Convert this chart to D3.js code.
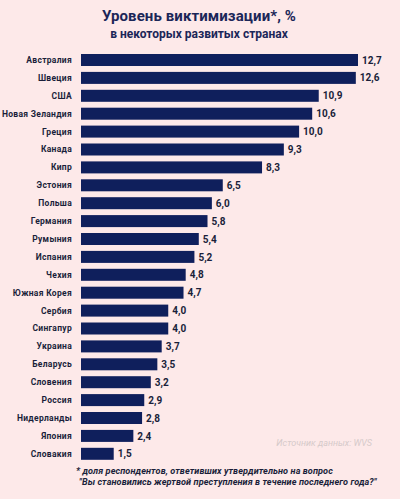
<!DOCTYPE html>
<html>
<head>
<meta charset="utf-8">
<script src="https://cdn.jsdelivr.net/npm/d3@7"></script>
<style>
  html, body { margin: 0; padding: 0; background: #fde9e9; }
  svg { display: block; }
  text { font-family: Roboto, 'Open Sans', sans-serif; }
</style>
</head>
<body>
<svg id="chart"></svg>
<script>
const countries = ['Австралия', 'Швеция', 'США', 'Новая Зеландия', 'Греция', 'Канада', 'Кипр',
  'Эстония', 'Польша', 'Германия', 'Румыния', 'Испания', 'Чехия', 'Южная Корея', 'Сербия',
  'Сингапур', 'Украина', 'Беларусь', 'Словения', 'Россия', 'Нидерланды', 'Япония', 'Словакия']
const values = [12.7, 12.6, 10.9, 10.6, 10.0, 9.3, 8.3, 6.5, 6.0, 5.8, 5.4, 5.2, 4.8, 4.7,
  4.0, 4.0, 3.7, 3.5, 3.2, 2.9, 2.8, 2.4, 1.5]
const titleLines = ['Уровень виктимизации*, %', 'в некоторых развитых странах']
const noteLines = ['* доля респондентов, ответивших утвердительно на вопрос',
  '"Вы становились жертвой преступления в течение последнего года?"']
const sourceText = 'Источник данных: WVS'

const width = 400
const height = 499
const navy = '#0f1f5c'

const svg = d3.select('#chart').attr('width', width).attr('height', height)

svg.append('rect').attr('width', width).attr('height', height).attr('fill', '#fde9e9')

const data = countries.map(function (c, i) { return { name: c, value: values[i] } })

const x = d3.scaleLinear().domain([0, 12.7]).range([81, 358])
const y = d3.scaleBand()
  .domain(countries)
  .range([54, 459.8])
  .paddingInner(0.33)
  .paddingOuter(0)

// title
svg.append('text')
  .attr('x', 199).attr('y', 20.5)
  .attr('text-anchor', 'middle')
  .attr('font-size', 15).attr('font-weight', 700)
  .attr('letter-spacing', 0.1)
  .attr('fill', '#1b2658')
  .text(titleLines[0])
svg.append('text')
  .attr('x', 199).attr('y', 37.5)
  .attr('text-anchor', 'middle')
  .attr('font-size', 12).attr('font-weight', 700)
  .attr('fill', '#1b2658')
  .text(titleLines[1])

const row = svg.selectAll('.row')
  .data(data)
  .enter().append('g')
    .attr('class', 'row')

row.append('rect')
  .attr('x', x(0))
  .attr('y', function (d) { return y(d.name) })
  .attr('width', function (d) { return x(d.value) - x(0) })
  .attr('height', y.bandwidth())
  .attr('fill', navy)

// country labels
row.append('text')
  .attr('x', x(0) - 9)
  .attr('y', function (d) { return y(d.name) + y.bandwidth() / 2 })
  .attr('dy', '0.35em')
  .attr('text-anchor', 'end')
  .attr('font-size', 8.5).attr('font-weight', 700)
  .attr('letter-spacing', 0.3)
  .attr('fill', '#1a1f3a')
  .text(function (d) { return d.name })

// values
row.append('text')
  .attr('x', function (d) { return x(d.value) + 4 })
  .attr('y', function (d) { return y(d.name) + y.bandwidth() / 2 })
  .attr('dy', '0.36em')
  .attr('font-size', 10).attr('font-weight', 700)
  .attr('fill', '#1a1f3a')
  .text(function (d) { return d3.format('.1f')(d.value).replace('.', ',') })

// source
svg.append('text')
  .attr('x', 372).attr('y', 446)
  .attr('text-anchor', 'end')
  .attr('font-size', 9).attr('font-style', 'italic')
  .attr('fill', '#d6caca')
  .text(sourceText)

// footnote
svg.selectAll('.note')
  .data(noteLines)
  .enter().append('text')
    .attr('class', 'note')
    .attr('x', function (d, i) { return i === 0 ? 76 : 79 })
    .attr('y', function (d, i) { return 474 + i * 11 })
    .attr('font-size', 9.1).attr('font-style', 'italic').attr('font-weight', 700)
    .attr('letter-spacing', 0.1)
    .attr('fill', '#1a1f3a')
    .text(function (d) { return d })
</script>
</body>
</html>
